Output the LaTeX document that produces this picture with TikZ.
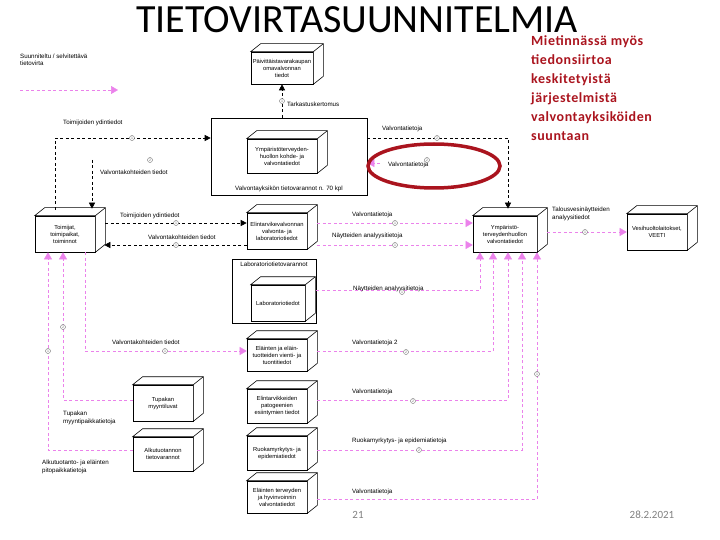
\documentclass[tikz,border=0pt]{standalone}
\usepackage{fontspec}
\setmainfont{Liberation Sans}
\newfontfamily\carlito{Carlito}
\newfontfamily\carlitovali[LetterSpace=4]{Carlito}
\usepackage{tikz}
\usetikzlibrary{arrows.meta,positioning,calc}

\definecolor{roosa}{RGB}{235,130,235}
\definecolor{tummapun}{RGB}{170,20,30}
\definecolor{harmaa}{RGB}{110,110,110}

\tikzset{
  laatikko/.style={draw, fill=white, line width=0.6pt, minimum width=60pt, minimum height=34pt,
    align=center, inner sep=1pt, font=\fontsize{5.8}{7}\selectfont},
  teksti/.style={font=\fontsize{6.2}{7.4}\selectfont, inner sep=0pt, align=left},
  musta/.style={dash pattern=on 3pt off 2.5pt, line width=0.6pt, -{Triangle[length=6pt,width=6pt]}},
  roosa/.style={dash pattern=on 3pt off 2.5pt, line width=0.5pt, draw=roosa,
    -{Triangle[length=7pt,width=8pt,fill=roosa]}},
  merkki/.style={circle, draw=harmaa, fill=white, line width=0.4pt, inner sep=0pt,
    minimum size=5pt, font=\fontsize{3.5}{3.5}\selectfont, text=harmaa},
}

% 3D-laatikon kansi ja kylki
\newcommand{\kuutio}[1]{%
  \filldraw[fill=white, line width=0.6pt] (#1.north west) -- ++(10pt,8pt)
    -| ($(#1.south east)+(10pt,8pt)$) -- (#1.south east) -- (#1.north east) -- cycle;
  \draw[line width=0.6pt] (#1.north east) -- ++(10pt,8pt);}

\begin{document}
\begin{tikzpicture}[x=1pt,y=-1pt]
  \useasboundingbox (0,0) rectangle (720,540);

  % otsikko ja huomautus
  \node[font=\carlito\fontsize{40}{40}\selectfont, inner sep=0pt, anchor=base] (otsikko) at (357,33) {TIETOVIRTASUUNNITELMIA};
  \node[anchor=north west, align=left, inner sep=0pt, text=tummapun,
    font=\carlitovali\bfseries\fontsize{14}{19}\selectfont] (huom) at (531,35)
    {Mietinnässä myös\\tiedonsiirtoa\\keskitetyistä\\järjestelmistä\\valvontayksiköiden\\suuntaan};

  % selite
  \node[teksti, anchor=west] (selite) at (20,60) {Suunniteltu / selvitettävä\\tietovirta};
  \coordinate (sel1) at (20,90);
  \coordinate (sel2) at (118,90);
  \draw[roosa] (sel1) -- (sel2);

  % laatikot
  \node[laatikko, minimum width=62pt, minimum height=32pt] (paiv) at (282,68) {Päivittäistavarakaupan\\omavalvonnan\\tiedot};
  \kuutio{paiv}
  \node[draw, line width=0.6pt, fill=white, minimum width=156pt, minimum height=77pt] (iso) at (289,156.5) {};
  \node[teksti, anchor=south] (isoteksti) at ([yshift=3pt]iso.south) {Valvontayksikön tietovarannot n. 70 kpl};
  \node[laatikko, minimum width=70pt] (ympkohde) at (282,156) {Ympäristöterveyden-\\huollon kohde- ja\\valvontatiedot};
  \kuutio{ympkohde}

  \node[laatikko, minimum height=36pt] (toimijat) at (65,234) {Toimijat,\\toimipaikat,\\toiminnot};
  \kuutio{toimijat}
  \node[laatikko, minimum height=36pt] (elint) at (277,231) {Elintarvikevalvonnan\\valvonta- ja\\laboratoriotiedot};
  \kuutio{elint}
  \node[laatikko, minimum width=64pt, minimum height=36pt] (ymp) at (505,234) {Ympäristö-\\terveydenhuollon\\valvontatiedot};
  \kuutio{ymp}
  \node[laatikko, minimum height=36pt] (vesi) at (657,232) {Vesihuoltolaitokset,\\VEETI};
  \kuutio{vesi}

  \node[draw, line width=0.6pt, minimum width=84pt, minimum height=64pt] (lab) at (274,291) {};
  \node[teksti, anchor=north] (labteksti) at ([yshift=-3pt]lab.north) {Laboratoriotietovarannot};
  \node[laatikko, minimum width=54pt, minimum height=36pt] (labtiedot) at (278,303) {Laboratoriotiedot};
  \kuutio{labtiedot}

  \node[laatikko, minimum height=32pt] (vienti) at (277,355) {Eläinten ja eläin-\\tuotteiden vienti- ja\\tuontitiedot};
  \kuutio{vienti}
  \node[laatikko] (pato) at (277,406) {Elintarvikkeiden\\patogeenien\\esiintymien tiedot};
  \kuutio{pato}
  \node[laatikko] (ruoka) at (277,453) {Ruokamyrkytys- ja\\epidemiatiedot};
  \kuutio{ruoka}
  \node[laatikko, minimum height=32pt] (terveys) at (277,497) {Eläinten terveyden\\ja hyvinvoinnin\\valvontatiedot};
  \kuutio{terveys}
  \node[laatikko, minimum height=36pt] (tupakka) at (163,403) {Tupakan\\myyntiluvat};
  \kuutio{tupakka}
  \node[laatikko] (alku) at (163,454) {Alkutuotannon\\tietovarannot};
  \kuutio{alku}

  % mustat tietovirrat
  \draw[musta] ([xshift=-10pt,yshift=6pt]toimijat.north) |- (iso.west |- 0,138);
  \coordinate (vk) at (92,160);
  \draw[musta, shorten >=7pt] (vk) -- (vk |- toimijat.north);
  \draw[musta] (iso.north -| paiv.south) -- (paiv.south);
  \draw[musta, shorten >=7pt] (iso.east |- 0,138) -| ([xshift=3pt]ymp.north);
  \draw[musta, shorten <=10pt] (toimijat.east |- 0,223) -- (elint.west |- 0,223);
  \draw[musta, shorten >=9pt] (elint.west |- 0,245) -- (toimijat.east |- 0,245);

  % roosat tietovirrat
  \coordinate (vt) at (380,163);
  \draw[roosa] (vt) -- (iso.east |- vt);
  \draw[roosa, shorten <=10pt] (elint.east |- 0,223) -- (ymp.west |- 0,223);
  \draw[roosa, shorten <=10pt] (elint.east |- 0,245) -- (ymp.west |- 0,245);
  \draw[roosa] (lab.east |- 0,290) -| ([xshift=-25pt]ymp.south);
  \draw[roosa, shorten <=10pt] (vienti.east |- 0,351) -| ([xshift=-12pt]ymp.south);
  \draw[roosa, shorten <=10pt] (pato.east |- 0,400) -| ([xshift=3pt]ymp.south);
  \draw[roosa, shorten <=10pt] (ruoka.east |- 0,450) -| ([xshift=17pt]ymp.south);
  \draw[roosa, shorten <=10pt] (terveys.east |- 0,499) -| ([xshift=32pt]ymp.south);
  \draw[roosa, shorten <=10pt] (ymp.east |- 0,232) -- (vesi.west |- 0,232);
  \draw[roosa] ([xshift=20pt]toimijat.south) |- (vienti.west |- 0,351);
  \draw[roosa] (alku.west |- 0,450) -| ([xshift=-17pt]toimijat.south);
  \draw[roosa] (tupakka.west |- 0,400) -| ([xshift=-2pt]toimijat.south);

  % nuolten tekstit
  \node[teksti, anchor=west] (t1) at (63,123) {Toimijoiden ydintiedot};
  \node[teksti, anchor=west] (t2) at (100,172) {Valvontakohteiden tiedot};
  \node[teksti, anchor=west] (t3) at (287,104) {Tarkastuskertomus};
  \node[teksti, anchor=west] (t4) at (382,129) {Valvontatietoja};
  \node[teksti, anchor=west] (t5) at (388,165) {Valvontatietoja};
  \node[teksti, anchor=west] (t6) at (120,216) {Toimijoiden ydintiedot};
  \node[teksti, anchor=west] (t7) at (148,237) {Valvontakohteiden tiedot};
  \node[teksti, anchor=west] (t8) at (352,215) {Valvontatietoja};
  \node[teksti, anchor=west] (t9) at (332,236) {Näytteiden analyysitietoja};
  \node[teksti, anchor=west] (t10) at (353,289) {Näytteiden analyysitietoja};
  \node[teksti, anchor=west] (t11) at (352,343) {Valvontatietoja 2};
  \node[teksti, anchor=west] (t12) at (352,392) {Valvontatietoja};
  \node[teksti, anchor=west] (t13) at (352,441) {Ruokamyrkytys- ja epidemiatietoja};
  \node[teksti, anchor=west] (t14) at (352,492) {Valvontatietoja};
  \node[teksti, anchor=west] (t15) at (552,214) {Talousvesinäytteiden\\analyysitiedot};
  \node[teksti, anchor=west] (t16) at (112,342) {Valvontakohteiden tiedot};
  \node[teksti, anchor=west] (t17) at (63,418) {Tupakan\\myyntipaikkatietoja};
  \node[teksti, anchor=west] (t18) at (42,467) {Alkutuotanto- ja eläinten\\pitopaikkatietoja};

  % merkit
  \node[merkki] (m1) at (132,138) {1};
  \node[merkki] (m2) at (150,160) {2};
  \node[merkki] (m3) at (282,101) {1};
  \node[merkki] (m4) at (437,138) {2};
  \node[merkki] (m5) at (427,160) {2};
  \node[merkki] (m6) at (176,223) {1};
  \node[merkki] (m7) at (176,245) {1};
  \node[merkki] (m8) at (395,223) {1};
  \node[merkki] (m9) at (395,245) {1};
  \node[merkki] (m10) at (402,292) {1};
  \node[merkki] (m11) at (406,352) {2};
  \node[merkki] (m12) at (413,401) {2};
  \node[merkki] (m13) at (419,450) {2};
  \node[merkki] (m14) at (585,232) {1};
  \node[merkki] (m15) at (537,374) {1};
  \node[merkki] (m16) at (48,351) {1};
  \node[merkki] (m17) at (63,327) {2};
  \node[merkki] (m18) at (165,351) {1};

  % rajaus
  \draw[tummapun, line width=3.5pt] (434,166) ellipse [x radius=66, y radius=22];

  % alatunniste
  \node[font=\carlito\fontsize{11}{11}\selectfont, text=gray] (sivu) at (358,515) {21};
  \node[font=\carlito\fontsize{11}{11}\selectfont, text=gray] (pvm) at (652,515) {28.2.2021};
\end{tikzpicture}
\end{document}
